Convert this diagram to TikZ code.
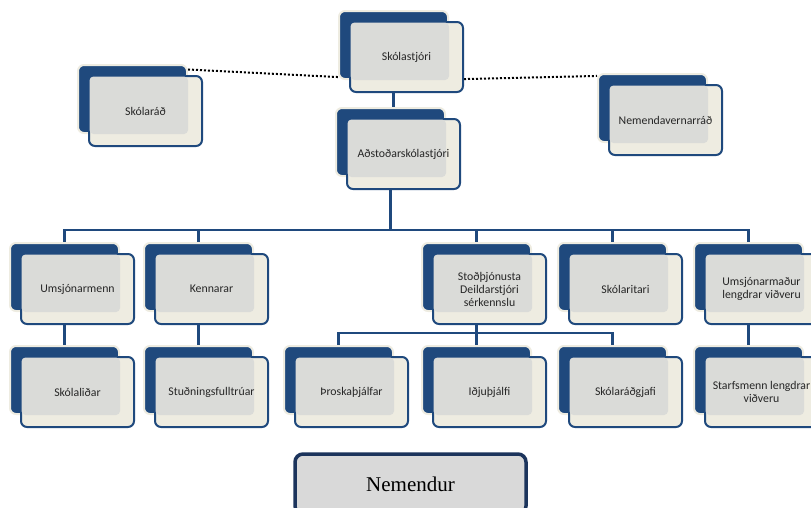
\documentclass[tikz,border=0pt]{standalone}
\usepackage{fontspec}
\setmainfont{Carlito}
\newfontfamily\timesfont{Liberation Serif}
\usetikzlibrary{backgrounds}

\begin{document}
\begin{tikzpicture}[x=1pt,y=-1pt,
  backbox/.style={draw=kCream,line width=2pt,fill=kBlue,rounded corners=6pt,
    minimum width=109pt,minimum height=68pt,inner sep=0pt,anchor=north west},
  frontbox/.style={draw=kBlue,line width=2pt,fill=kCream,rounded corners=6pt,
    minimum width=113pt,minimum height=70pt,inner sep=0pt,anchor=north west},
  textbg/.style={fill=kGray,rounded corners=4pt},
  boxtext/.style={font=\fontsize{11.8}{13}\selectfont,text=black!85,align=center},
  link/.style={draw=kBlue,line width=2.7pt},
  dotlink/.style={draw=black,line width=2pt,dash pattern=on 2pt off 2pt}]
  % colors
  \definecolor{kBlue}{RGB}{31,73,125}
  \definecolor{kNavy}{RGB}{28,52,92}
  \definecolor{kCream}{RGB}{238,236,225}
  \definecolor{kGray}{RGB}{218,219,216}
  \definecolor{kLightGray}{RGB}{217,217,217}
  \useasboundingbox (0,0) rectangle (811,507);
  % boxes
  \foreach \n/\x/\y/\t in {sk/338/10/{Skólastjóri}, ad/335/107/{Aðstoðarskólastjóri},
      sr/77/64/{Skólaráð}, nv/597/73/{Nemendavernarráð},
      um/9/242/{Umsjónarmenn}, ke/143/242/{Kennarar},
      st/421/242/{Stoðþjónusta\\Deildarstjóri\\sérkennslu}, ri/557/242/{Skólaritari},
      ul/693/242/{Umsjónarmaður\\lengdrar viðveru},
      sl/9/345/{Skólaliðar}, su/143/345/{Stuðningsfulltrúar}, th/283/345/{Þroskaþjálfar},
      id/421/345/{Iðjuþjálfi}, ra/557/345/{Skólaráðgjafi},
      sf/693/345/{Starfsmenn lengdrar\\viðveru}} {
    \node[backbox] (\n-b) at (\x,\y) {};
    \node[frontbox] (\n) at ([shift={(11,11)}]\n-b.north west) {};
    \fill[textbg] ([shift={(1.5,1.5)}]\n.north west) rectangle (\n-b.south east);
    \node[boxtext] (\n-t) at (\n.center) {\t};
  }
  \node[draw=kNavy,line width=3.5pt,fill=kLightGray,rounded corners=8pt,
    minimum width=231pt,minimum height=60pt,
    font=\timesfont\fontsize{21}{24}\selectfont] (nem) at (410.5,484) {Nemendur};
  % connectors
  \begin{pgfonlayer}{background}
    \coordinate (bus) at (0,230);
    \coordinate (sub) at (0,333);
    \draw[link] (sk-b.south) -- (sk-b.south |- ad-b.north);
    \foreach \c in {um,ke,st,ri,ul}
      \draw[link] (ad-b.south) -- (ad-b.south |- bus) -| (\c-b.north);
    \foreach \c in {th,id,ra}
      \draw[link] (st-b.south) -- (st-b.south |- sub) -| (\c-b.north);
    \draw[link] (um-b.south) -- (sl-b.north);
    \draw[link] (ke-b.south) -- (su-b.north);
    \draw[link] (ul-b.south) -- (sf-b.north);
    \draw[dotlink] (sr-b.28) -- (sk-b.210);
    \draw[dotlink] (sk.-21) -- (nv-b.150);
  \end{pgfonlayer}
\end{tikzpicture}
\end{document}
